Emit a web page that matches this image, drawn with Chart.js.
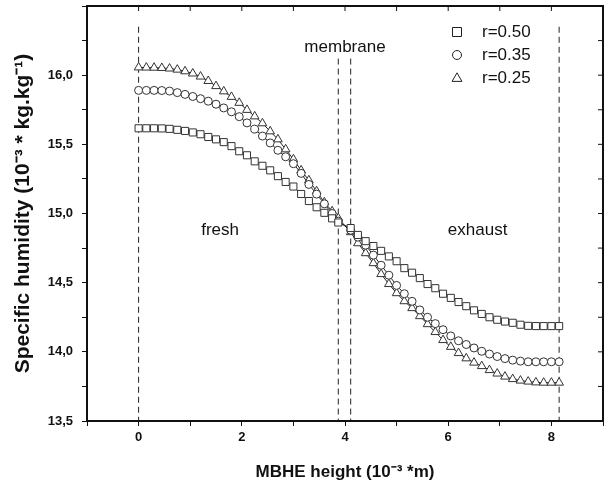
<!DOCTYPE html>
<html>
<head>
<meta charset="utf-8">
<script src="https://cdn.jsdelivr.net/npm/chart.js@4"></script>
<style>
  html, body { margin: 0; padding: 0; background: #fff; }
  #wrap { width: 612px; height: 488px; }
</style>
</head>
<body>
<div id="wrap"><canvas id="humidityChart" width="612" height="488"></canvas></div>
<script>
// MBHE height (10^-3 m), fresh side then exhaust side
const freshX = [0, 0.15, 0.3, 0.45, 0.6, 0.75, 0.9, 1.05, 1.2, 1.35, 1.5, 1.65, 1.8, 1.95, 2.1, 2.25, 2.4, 2.55, 2.7, 2.85, 3.0, 3.15, 3.3, 3.45, 3.6, 3.75, 3.87];
const exhaustX = [4.11, 4.25, 4.4, 4.55, 4.7, 4.85, 5.0, 5.15, 5.3, 5.45, 5.6, 5.75, 5.9, 6.05, 6.2, 6.35, 6.5, 6.65, 6.8, 6.95, 7.1, 7.25, 7.4, 7.55, 7.7, 7.85, 8.0, 8.15];

// specific humidity (10^-3 kg/kg)
const r050 = [15.616, 15.616, 15.616, 15.615, 15.612, 15.605, 15.597, 15.586, 15.573, 15.553, 15.536, 15.516, 15.487, 15.450, 15.421, 15.377, 15.345, 15.312, 15.270, 15.228, 15.195, 15.141, 15.090, 15.045, 15.005, 14.965, 14.935,
              14.895, 14.845, 14.800, 14.765, 14.730, 14.690, 14.655, 14.605, 14.572, 14.533, 14.490, 14.460, 14.420, 14.390, 14.360, 14.330, 14.300, 14.274, 14.250, 14.232, 14.219, 14.210, 14.196, 14.188, 14.186, 14.186, 14.186, 14.186];
const r035 = [15.890, 15.890, 15.890, 15.889, 15.885, 15.874, 15.861, 15.846, 15.830, 15.812, 15.790, 15.763, 15.735, 15.700, 15.655, 15.610, 15.560, 15.510, 15.457, 15.410, 15.360, 15.290, 15.210, 15.140, 15.070, 15.000, 14.945,
              14.879, 14.829, 14.771, 14.699, 14.626, 14.554, 14.480, 14.420, 14.365, 14.303, 14.250, 14.204, 14.160, 14.115, 14.080, 14.053, 14.028, 14.004, 13.984, 13.966, 13.951, 13.940, 13.933, 13.928, 13.928, 13.928, 13.928, 13.928];
const r025 = [16.056, 16.055, 16.054, 16.052, 16.048, 16.040, 16.028, 16.012, 15.990, 15.958, 15.921, 15.883, 15.843, 15.800, 15.749, 15.702, 15.652, 15.594, 15.536, 15.464, 15.392, 15.312, 15.240, 15.161, 15.081, 15.016, 14.966,
              14.865, 14.785, 14.713, 14.641, 14.562, 14.490, 14.424, 14.366, 14.316, 14.258, 14.200, 14.143, 14.085, 14.036, 13.991, 13.953, 13.922, 13.897, 13.868, 13.843, 13.821, 13.803, 13.792, 13.785, 13.779, 13.777, 13.777, 13.777];

const seriesLabels = ['r=0.50', 'r=0.35', 'r=0.25'];
const seriesShapes = ['rect', 'circle', 'triangle'];

// dashed boundaries: channel ends and both faces of the membrane
const dividerX = [0, 3.87, 4.11, 8.15];
const dividerTop = [16.35, 16.12, 16.12, 16.35];

const regionLabels = ['fresh', 'membrane', 'exhaust'];
const regionX = [1.58, 4.0, 6.57];
const regionY = [14.88, 16.2, 14.88];

const xTicks = [-1, 0, 1, 2, 3, 4, 5, 6, 7, 8, 9];

const heights = freshX.concat(exhaustX);
const toPoints = vals => heights.map((x, i) => ({ x: x, y: vals[i] }));

const FONT = '"Liberation Sans", Arial, sans-serif';

function shapeAt(ctx, shape, x, y, s) {
    ctx.beginPath();
    if (shape === 'rect') {
        ctx.rect(x - s, y - s, 2 * s, 2 * s);
    } else if (shape === 'circle') {
        ctx.arc(x, y, s, 0, Math.PI * 2);
    } else {
        ctx.moveTo(x, y - s * 1.15);
        ctx.lineTo(x + s * 1.1, y + s * 0.75);
        ctx.lineTo(x - s * 1.1, y + s * 0.75);
        ctx.closePath();
    }
    ctx.fillStyle = '#fff';
    ctx.fill();
    ctx.strokeStyle = '#222';
    ctx.lineWidth = 1;
    ctx.stroke();
}

const decorations = {
    id: 'decorations',
    afterDatasetsDraw(chart) {
        const ctx = chart.ctx;
        const a = chart.chartArea;
        const xs = chart.scales.x, ys = chart.scales.y;
        ctx.save();
        // frame
        ctx.strokeStyle = '#111';
        ctx.lineWidth = 2;
        ctx.strokeRect(a.left, a.top, a.right - a.left, a.bottom - a.top);
        // inward ticks on top and right
        ctx.lineWidth = 1;
        xTicks.forEach(v => {
            const px = xs.getPixelForValue(v);
            ctx.beginPath(); ctx.moveTo(px, a.top); ctx.lineTo(px, a.top + 5); ctx.stroke();
        });
        for (let v = 13.5; v <= 16.5001; v += 0.25) {
            const py = ys.getPixelForValue(v);
            ctx.beginPath(); ctx.moveTo(a.right, py); ctx.lineTo(a.right - 5, py); ctx.stroke();
        }
        // region names
        ctx.fillStyle = '#111';
        ctx.font = '17px ' + FONT;
        ctx.textAlign = 'center';
        ctx.textBaseline = 'middle';
        regionLabels.forEach((t, i) => {
            ctx.fillText(t, xs.getPixelForValue(regionX[i]), ys.getPixelForValue(regionY[i]));
        });
        // legend
        ctx.textAlign = 'left';
        seriesLabels.forEach((t, i) => {
            const y = 32 + i * 23;
            shapeAt(ctx, seriesShapes[i], 457, y, 4.5);
            ctx.fillStyle = '#111';
            ctx.fillText(t, 482, y);
        });
        ctx.restore();
    }
};

const ctx = document.getElementById('humidityChart').getContext('2d');

const dividerSets = dividerX.map((x, i) => ({
    data: [{ x: x, y: dividerTop[i] }, { x: x, y: 13.5 }],
    showLine: true,
    borderColor: '#222',
    borderWidth: 1,
    borderDash: [6, 4],
    pointRadius: 0,
    order: 10
}));

const seriesSets = [r050, r035, r025].map((vals, i) => ({
    label: seriesLabels[i],
    data: toPoints(vals),
    showLine: true,
    borderColor: '#222',
    borderWidth: 1,
    pointStyle: seriesShapes[i],
    pointRadius: i === 1 ? 4 : 5,
    pointBackgroundColor: '#fff',
    pointBorderColor: '#333',
    pointBorderWidth: 1,
    order: i
}));

const humidityChart = new Chart(ctx, {
    type: 'scatter',
    data: { datasets: seriesSets.concat(dividerSets) },
    options: {
        responsive: false,
        animation: false,
        layout: { padding: { top: 6, right: 9, left: 0, bottom: 0 } },
        plugins: {
            legend: { display: false },
            tooltip: { enabled: false }
        },
        scales: {
            x: {
                type: 'linear',
                min: -1,
                max: 9,
                afterFit: s => { s.height = 67; s.paddingLeft = 0; s.paddingRight = 0; },
                ticks: {
                    stepSize: 1,
                    padding: 4,
                    color: '#111',
                    font: { family: FONT, size: 13, weight: 'bold' },
                    callback: v => (v % 2 === 0 ? String(v) : '')
                },
                grid: { drawOnChartArea: false, drawTicks: true, tickLength: 5, color: '#111' },
                border: { display: false },
                title: {
                    display: true,
                    text: 'MBHE height (10\u207B\u00B3 *m)',
                    color: '#111',
                    font: { family: FONT, size: 17, weight: 'bold' },
                    padding: { top: 0, bottom: 5 }
                }
            },
            y: {
                type: 'linear',
                min: 13.5,
                max: 16.5,
                afterFit: s => { s.width = 87; s.paddingTop = 0; s.paddingBottom = 0; },
                ticks: {
                    stepSize: 0.25,
                    padding: 9,
                    color: '#111',
                    font: { family: FONT, size: 13, weight: 'bold' },
                    callback: v => {
                        const h = v * 2;
                        if (Math.abs(h - Math.round(h)) > 1e-6 || v > 16.4) return '';
                        return v.toFixed(1).replace('.', ',');
                    }
                },
                grid: { drawOnChartArea: false, drawTicks: true, tickLength: 5, color: '#111' },
                border: { display: false },
                title: {
                    display: true,
                    text: 'Specific humidity (10\u207B\u00B3 * kg.kg\u207B\u00B9)',
                    color: '#111',
                    font: { family: FONT, size: 21, weight: 'bold' },
                    padding: { top: 11, bottom: 0 }
                }
            }
        }
    },
    plugins: [decorations]
});
</script>
</body>
</html>
